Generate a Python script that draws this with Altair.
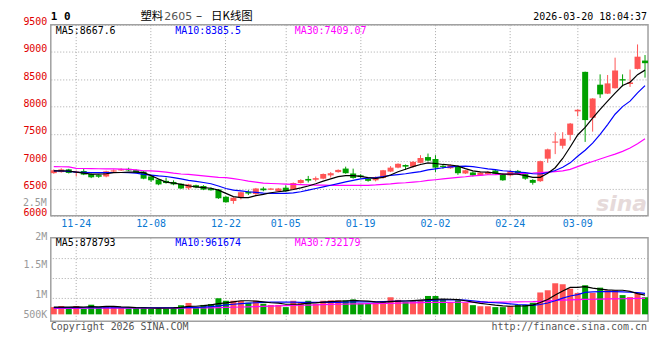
import altair as alt
import pandas as pd

# ---------------- data ----------------
dates = ["11-19", "11-20", "11-21", "11-24", "11-25", "11-26", "11-27", "11-28",
         "12-01", "12-02", "12-03", "12-04", "12-05", "12-08", "12-09", "12-10",
         "12-11", "12-12", "12-15", "12-16", "12-17", "12-18", "12-19", "12-22",
         "12-23", "12-24", "12-25", "12-26", "12-29", "12-30", "12-31", "01-05",
         "01-06", "01-07", "01-08", "01-09", "01-12", "01-13", "01-14", "01-15",
         "01-16", "01-19", "01-20", "01-21", "01-22", "01-23", "01-26", "01-27",
         "01-28", "01-29", "01-30", "02-02", "02-03", "02-04", "02-05", "02-06",
         "02-09", "02-10", "02-11", "02-12", "02-13", "02-24", "02-25", "02-26",
         "02-27", "03-02", "03-03", "03-04", "03-05", "03-06", "03-09", "03-10",
         "03-11", "03-12", "03-13", "03-16", "03-17", "03-18", "03-19", "03-20"]

opens = [6781, 6800, 6850, 6790, 6820, 6765, 6745, 6720, 6810, 6830,
         6860, 6840, 6810, 6720, 6665, 6640, 6620, 6585, 6505, 6560,
         6545, 6500, 6480, 6350, 6270, 6340, 6440, 6400, 6500, 6478,
         6450, 6515, 6480, 6600, 6675, 6660, 6680, 6740, 6800, 6865,
         6775, 6740, 6675, 6650, 6693, 6810, 6882, 6930, 6900, 6970,
         7076, 7040, 6915, 6870, 6910, 6775, 6793, 6740, 6760, 6830,
         6760, 6740, 6823, 6763, 6657, 6634, 7046, 7340, 7283, 7482,
         7912, 8636, 7795, 8401, 8237, 8336, 8502, 8414, 8690, 8843]
closes = [6834, 6850, 6785, 6812, 6755, 6705, 6715, 6815, 6832, 6852,
          6830, 6790, 6680, 6650, 6575, 6600, 6575, 6500, 6575, 6520,
          6480, 6470, 6320, 6250, 6330, 6430, 6410, 6500, 6470, 6498,
          6500, 6450, 6600, 6655, 6645, 6690, 6765, 6780, 6840, 6780,
          6693, 6710, 6640, 6705, 6834, 6882, 6952, 6900, 6988, 7058,
          7010, 6882, 6895, 6930, 6780, 6834, 6740, 6790, 6800, 6770,
          6650, 6820, 6765, 6680, 6604, 7000, 7217, 7360, 7412, 7689,
          7942, 7753, 8148, 8224, 8425, 8661, 8477, 8442, 8914, 8795]
highs = [6850, 6870, 6860, 6830, 6860, 6775, 6755, 6825, 6850, 6870,
         6880, 6850, 6820, 6730, 6670, 6700, 6650, 6590, 6585, 6570,
         6560, 6520, 6490, 6360, 6340, 6440, 6470, 6510, 6530, 6510,
         6510, 6560, 6610, 6670, 6730, 6720, 6775, 6800, 6850, 6900,
         6864, 6760, 6690, 6720, 6840, 6910, 6960, 6940, 7000, 7110,
         7140, 7110, 6935, 6940, 6920, 6840, 6810, 6800, 6820, 6845,
         6775, 6840, 6840, 6790, 6670, 7010, 7230, 7530, 7531, 7700,
         7950, 8640, 8155, 8590, 8578, 8896, 8590, 8678, 9138, 8944]
lows = [6770, 6790, 6775, 6720, 6745, 6690, 6695, 6705, 6795, 6820,
        6820, 6780, 6670, 6620, 6560, 6590, 6560, 6490, 6480, 6505,
        6470, 6460, 6310, 6240, 6220, 6300, 6380, 6370, 6450, 6470,
        6440, 6440, 6470, 6590, 6610, 6630, 6670, 6700, 6790, 6770,
        6680, 6690, 6625, 6630, 6680, 6800, 6870, 6840, 6880, 6960,
        7000, 6800, 6860, 6860, 6750, 6765, 6720, 6730, 6750, 6760,
        6640, 6720, 6750, 6660, 6570, 6620, 6970, 7130, 7230, 7380,
        7823, 7353, 7541, 8159, 8230, 8330, 8370, 8360, 8680, 8530]

ma5 = [6823, 6823, 6820, 6800, 6780, 6763, 6763, 6770, 6790, 6793,
       6800, 6800, 6790, 6735, 6675, 6617, 6600, 6576, 6550, 6528,
       6517, 6505, 6470, 6410, 6352, 6334, 6334, 6369, 6392, 6422,
       6440, 6458, 6481, 6510, 6546, 6587, 6634, 6675, 6717, 6735,
       6735, 6723, 6700, 6687, 6705, 6746, 6806, 6852, 6900, 6940,
       6970, 6958, 6940, 6930, 6910, 6864, 6823, 6806, 6800, 6781,
       6763, 6765, 6763, 6735, 6705, 6705, 6780, 6880, 7050, 7260,
       7480, 7620, 7790, 7950, 8100, 8245, 8385, 8445, 8585, 8668]
ma10 = [6823, 6820, 6815, 6800, 6795, 6793, 6790, 6790, 6793, 6793,
        6790, 6780, 6760, 6745, 6730, 6720, 6700, 6675, 6650, 6630,
        6610, 6587, 6545, 6500, 6470, 6455, 6440, 6430, 6415, 6410,
        6410, 6410, 6420, 6440, 6470, 6500, 6530, 6560, 6590, 6620,
        6650, 6675, 6690, 6700, 6720, 6740, 6755, 6770, 6790, 6810,
        6840, 6860, 6880, 6895, 6905, 6910, 6900, 6880, 6860, 6845,
        6825, 6815, 6800, 6790, 6770, 6765, 6790, 6830, 6890, 6970,
        7090, 7200, 7330, 7490, 7670, 7860, 8000, 8100, 8250, 8385]
ma30 = [6900, 6898, 6895, 6870, 6866, 6864, 6862, 6860, 6858, 6855,
        6850, 6840, 6825, 6822, 6815, 6800, 6780, 6765, 6760, 6745,
        6730, 6718, 6705, 6700, 6680, 6660, 6635, 6618, 6600, 6592,
        6587, 6580, 6575, 6570, 6566, 6562, 6560, 6558, 6557, 6556,
        6556, 6557, 6558, 6565, 6576, 6585, 6599, 6605, 6617, 6628,
        6647, 6660, 6675, 6690, 6705, 6715, 6730, 6740, 6752, 6755,
        6763, 6766, 6772, 6778, 6781, 6790, 6800, 6810, 6822, 6850,
        6900, 6950, 6995, 7040, 7085, 7130, 7180, 7240, 7320, 7409]

volume_k = [330, 380, 290, 380, 250, 440, 330, 380, 340, 290,
            270, 280, 330, 270, 280, 300, 310, 420, 520, 300,
            430, 470, 740, 620, 620, 610, 530, 620, 480, 430,
            430, 330, 620, 540, 620, 480, 620, 640, 640, 640,
            680, 500, 500, 540, 590, 780, 660, 560, 600, 640,
            840, 840, 680, 530, 640, 530, 420, 370, 370, 330,
            330, 380, 430, 430, 530, 1000, 1100, 1420, 1380, 1170,
            980, 1330, 980, 1220, 1100, 1100, 880, 790, 960, 780]
vol_ma5_k = [330, 335, 330, 345, 330, 350, 340, 360, 365, 340,
             330, 310, 300, 290, 285, 290, 295, 320, 360, 370,
             395, 430, 490, 520, 570, 620, 620, 600, 570, 530,
             510, 460, 460, 470, 510, 520, 560, 580, 600, 610,
             640, 620, 600, 570, 560, 580, 600, 610, 630, 650,
             670, 690, 700, 690, 670, 620, 560, 500, 460, 420,
             390, 370, 380, 390, 420, 540, 680, 880, 1070, 1230,
             1230, 1270, 1200, 1150, 1120, 1100, 1100, 1050, 950, 879]
vol_ma10_k = [310, 310, 305, 305, 300, 300, 300, 300, 300, 300,
              300, 300, 300, 300, 300, 300, 300, 305, 310, 320,
              330, 350, 390, 430, 460, 490, 510, 530, 545, 560,
              565, 560, 555, 550, 550, 550, 550, 550, 550, 560,
              570, 570, 570, 570, 580, 590, 600, 610, 610, 620,
              630, 650, 660, 660, 660, 650, 620, 580, 550, 530,
              510, 480, 450, 430, 410, 450, 520, 620, 740, 840,
              900, 1000, 1030, 1040, 1040, 1040, 1030, 1010, 990, 962]
vol_ma30_k = [275, 275, 276, 276, 277, 277, 278, 278, 279, 280,
              280, 281, 282, 283, 284, 285, 286, 288, 290, 292,
              295, 298, 305, 315, 325, 335, 345, 355, 365, 375,
              385, 395, 405, 415, 425, 435, 445, 455, 462, 468,
              474, 480, 486, 492, 498, 505, 512, 520, 528, 535,
              540, 545, 548, 550, 552, 553, 554, 555, 556, 557,
              560, 565, 570, 575, 580, 595, 615, 635, 650, 662,
              672, 682, 690, 697, 703, 708, 713, 719, 726, 732]

tick_dates = ["11-24", "12-08", "12-22", "01-05", "01-19", "02-02", "02-24", "03-09"]
price_ticks = [6000, 6500, 7000, 7500, 8000, 8500, 9000, 9500]
vol_grid = [728000, 1638000, 2548000]
vol_label_values = [3435250, 2161250, 750750, -159250]

# ---------------- styling ----------------
MONO = "DejaVu Sans Mono"
CJK = "Noto Sans CJK SC"
RED = "#ff5555"
GREEN = "#00a000"
AXIS_RED = "#e00000"
DATE_BLUE = "#0a78d2"
GRID = "#a8a8a8"
W, H_MAIN, H_VOL = 600, 192, 84

df = pd.DataFrame({
    "d": dates, "o": opens, "h": highs, "l": lows, "c": closes,
    "ma5": ma5, "ma10": ma10, "ma30": ma30,
    "v": [x * 1000 for x in volume_k],
    "vma5": [x * 1000 for x in vol_ma5_k],
    "vma10": [x * 1000 for x in vol_ma10_k],
    "vma30": [x * 1000 for x in vol_ma30_k],
})
df["dir"] = ["up" if c >= o else "down" for o, c in zip(opens, closes)]

xscale = alt.Scale(domain=dates, paddingInner=0.2, paddingOuter=0)
color = alt.Color("dir:N", scale=alt.Scale(domain=["up", "down"], range=[RED, GREEN]), legend=None)
price_scale = alt.Scale(domain=[6000, 9500], nice=False, zero=False)
vol_scale = alt.Scale(domain=[-318500, 3503500], nice=False, zero=False)

main_xaxis = alt.Axis(values=tick_dates, title=None, labelAngle=0, grid=True, gridDash=[1, 2],
                      gridColor=GRID, ticks=False, domain=False, labelColor=DATE_BLUE,
                      labelFont=MONO, labelFontSize=10, labelPadding=3, bandPosition=0.5,
                      labelBaseline="top")
vol_xaxis = alt.Axis(values=tick_dates, title=None, labels=False, grid=True, gridDash=[1, 2],
                     gridColor=GRID, ticks=False, domain=False, bandPosition=0.5)
price_axis = alt.Axis(values=price_ticks, format="d", title=None, grid=True, gridDash=[1, 2],
                      gridColor=GRID, ticks=False, domain=False, labelColor=AXIS_RED,
                      labelFont=MONO, labelFontSize=10, labelPadding=4,
                      labelBaseline="alphabetic")
vol_axis = alt.Axis(values=vol_label_values, title=None, grid=False, ticks=False, domain=False,
                    labelColor="#999999", labelFont=MONO, labelFontSize=10, labelPadding=4,
                    labelBaseline="alphabetic",
                    labelExpr="datum.value > 3000000 ? '2M' : datum.value > 2000000 ? '1.5M' : datum.value > 500000 ? '1M' : '500K'")


def label(text, x, y, col="#000000", size=10, align="left", font=MONO, weight="normal",
          style="normal", opacity=1.0):
    return alt.Chart(pd.DataFrame({"t": [text]})).mark_text(
        align=align, baseline="middle", font=font, fontSize=size, fontWeight=weight,
        fontStyle=style, color=col, opacity=opacity
    ).encode(x=alt.value(x), y=alt.value(y), text="t:N")


base = alt.Chart(df)


def xmain():
    return alt.X("d:O", scale=xscale, axis=main_xaxis)


def xvol():
    return alt.X("d:O", scale=xscale, axis=vol_xaxis)


wicks = base.mark_rule(strokeWidth=1).encode(
    x=xmain(), y=alt.Y("l:Q", scale=price_scale, axis=price_axis),
    y2="h:Q", color=color)
bodies = base.mark_bar().encode(
    x=xmain(), y=alt.Y("o:Q", scale=price_scale, axis=price_axis),
    y2="c:Q", color=color)


def ma_line(field, col, yscale, yaxis, xfun):
    return base.mark_line(color=col, strokeWidth=1.2).encode(
        x=xfun(), y=alt.Y(f"{field}:Q", scale=yscale, axis=yaxis))


main = alt.layer(
    wicks, bodies,
    label("sina", 548, 180, col="#e2d4d4", size=22, font="DejaVu Sans", weight="bold",
          style="italic", opacity=0.85),
    ma_line("ma30", "#ff00ff", price_scale, price_axis, xmain),
    ma_line("ma10", "#0000ff", price_scale, price_axis, xmain),
    ma_line("ma5", "#000000", price_scale, price_axis, xmain),
    label("MA5:8667.6", 5, 6),
    label("MA10:8385.5", 125, 6, col="#0000ff"),
    label("MA30:7409.07", 245, 6, col="#ff00ff"),
    label("1 0", 0, -8, size=11, weight="bold"),
    label("塑料", 90, -8, size=11.5, font=CJK),
    label("2605", 114, -8, col="#555555", size=11, font="DejaVu Sans"),
    label("–", 149, -8, size=11.5, align="center", font=CJK),
    label("日K线图", 161, -8, size=11.5, font=CJK),
    label("2026-03-20 18:04:37", 599, -8, align="right"),
    label("2.5M", -4, 179, col="#999999", align="right"),
).properties(width=W, height=H_MAIN)

vol_bars = base.mark_bar().encode(
    x=xvol(), y=alt.Y("v:Q", scale=vol_scale, axis=vol_axis),
    y2=alt.datum(0), color=color)
vol_gridlines = alt.Chart(pd.DataFrame({"g": vol_grid})).mark_rule(
    color=GRID, strokeDash=[1, 2], strokeWidth=1
).encode(y=alt.Y("g:Q", scale=vol_scale, axis=vol_axis))

vol = alt.layer(
    vol_gridlines, vol_bars,
    ma_line("vma30", "#ff00ff", vol_scale, vol_axis, xvol),
    ma_line("vma10", "#0000ff", vol_scale, vol_axis, xvol),
    ma_line("vma5", "#000000", vol_scale, vol_axis, xvol),
    label("MA5:878793", 5, 5),
    label("MA10:961674", 125, 5, col="#0000ff"),
    label("MA30:732179", 245, 5, col="#ff00ff"),
    label("Copyright 2026 SINA.COM", 0, 90, col="#555555"),
    label("http://finance.sina.com.cn", 599, 90, col="#555555", align="right"),
).properties(width=W, height=H_VOL)

chart = alt.vconcat(main, vol, spacing=0).properties(
    padding={"left": 14, "top": 1, "right": 2, "bottom": 2}
).configure_view(stroke="#a0a0a0", strokeWidth=1.5)

chart.save("out.html", embed_options={"renderer": "svg", "actions": False})
